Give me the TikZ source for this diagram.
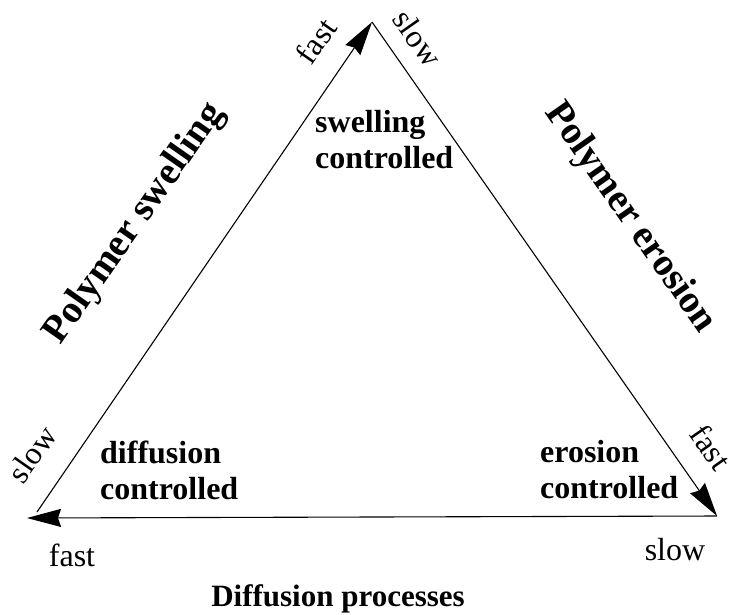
\documentclass[tikz,border=0pt]{standalone}
\usepackage{fontspec}
\setmainfont{Liberation Serif}
\usetikzlibrary{arrows.meta}

\begin{document}
\begin{tikzpicture}[x=1pt, y=-1pt,
    edge/.style={line width=1.1pt, -{Stealth[length=34pt, width=18pt, inset=3pt]}},
    rate/.style={font=\fontsize{32}{38}\selectfont, inner sep=0pt},
    regime/.style={font=\fontsize{32}{36}\selectfont\bfseries, align=left, inner sep=0pt, anchor=west},
    process/.style={font=\fontsize{39}{44}\selectfont\bfseries, inner sep=0pt}]
    \useasboundingbox (0,0) rectangle (735,614);
    % corners of the triangle
    \coordinate (top) at (372,22);
    \coordinate (left) at (27,518);
    \coordinate (leftstart) at (37,512);
    \coordinate (right) at (717,516);
    % the three rates
    \draw[edge] (leftstart) -- (top);
    \draw[edge] (top) -- (right);
    \draw[edge] (right) -- (left);
    % regimes
    \node[regime] (swell) at (315,140) {swelling\\controlled};
    \node[regime] (diff) at (100,470) {diffusion\\controlled};
    \node[regime] (eros) at (540,470) {erosion\\controlled};
    % fast / slow marks
    \node[rate, rotate=55] (topfast) at (316,41) {fast};
    \node[rate, rotate=-55] (topslow) at (418,38) {slow};
    \node[rate, rotate=55] (leftslow) at (32,454) {slow};
    \node[rate] (leftfast) at (72,555) {fast};
    \node[rate, rotate=-55] (rightfast) at (711,447) {fast};
    \node[rate] (rightslow) at (675,550) {slow};
    % processes
    \node[process, rotate=55] (swelling) at (135,224) {Polymer swelling};
    \node[process, rotate=-55] (erosion) at (630,218) {Polymer erosion};
    \node[process, font=\fontsize{31}{36}\selectfont\bfseries, anchor=base] (diffusion) at (338,606) {Diffusion processes};
\end{tikzpicture}
\end{document}
